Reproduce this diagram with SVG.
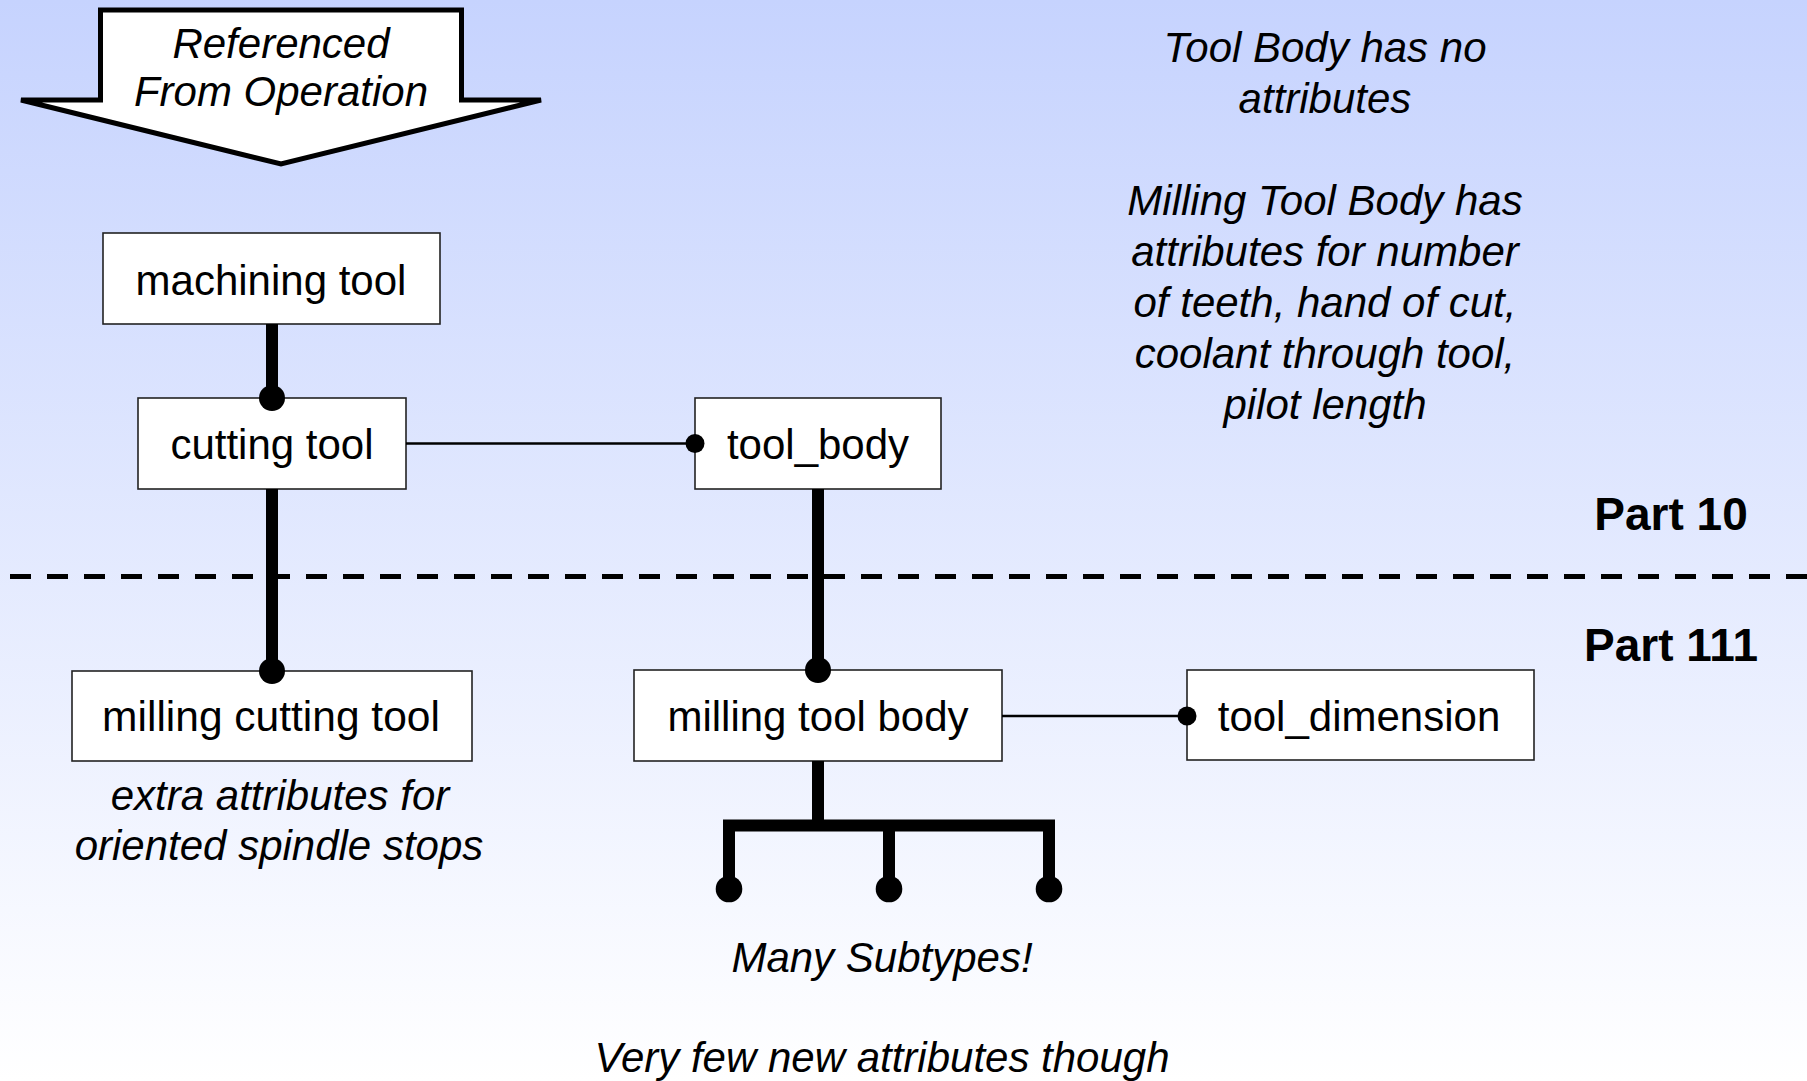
<svg xmlns="http://www.w3.org/2000/svg" width="1807" height="1081" viewBox="0 0 1807 1081">
<defs>
<linearGradient id="bg" x1="0" y1="0" x2="0" y2="1">
<stop offset="0" stop-color="#C6D3FE"/>
<stop offset="1" stop-color="#FFFFFF"/>
</linearGradient>
</defs>
<style>
.box{fill:#FFFFFF;stroke:#222222;stroke-width:1.6}
.lbl{font-family:"Liberation Sans",Arial,sans-serif;font-size:42px;fill:#000;text-anchor:middle}
.it{font-family:"Liberation Sans",Arial,sans-serif;font-size:42px;font-style:italic;fill:#000;text-anchor:middle}
.part{font-family:"Liberation Sans",Arial,sans-serif;font-size:46px;font-weight:bold;fill:#000;text-anchor:middle}
.thick{stroke:#000;stroke-width:12;fill:none}
.thin{stroke:#000;stroke-width:2.5;fill:none}
.dot{fill:#000}
</style>
<rect x="0" y="0" width="1807" height="1081" fill="url(#bg)"/>
<line x1="10" y1="576.5" x2="1807" y2="576.5" stroke="#000" stroke-width="5" stroke-dasharray="21 16"/>
<g id="referenced-arrow">
<polygon points="100.5,10 461.5,10 461.5,100 541,100 281,164 21,100 100.5,100" fill="#FFFFFF" stroke="#000" stroke-width="5"/>
<text class="it" x="281" y="58">Referenced</text>
<text class="it" x="281" y="106">From Operation</text>
</g>
<g id="machining-tool">
<rect class="box" x="103" y="233" width="337" height="91"/>
<text class="lbl" x="271" y="295">machining tool</text>
</g>
<g id="cutting-tool">
<rect class="box" x="138" y="398" width="268" height="91"/>
<text class="lbl" x="272" y="459">cutting tool</text>
</g>
<g id="tool-body">
<rect class="box" x="695" y="398" width="246" height="91"/>
<text class="lbl" x="818" y="459">tool_body</text>
</g>
<g id="milling-cutting-tool">
<rect class="box" x="72" y="671" width="400" height="90"/>
<text class="lbl" x="271" y="731" style="font-size:42.5px">milling cutting tool</text>
</g>
<g id="milling-tool-body">
<rect class="box" x="634" y="670" width="368" height="91"/>
<text class="lbl" x="818" y="731">milling tool body</text>
</g>
<g id="tool-dimension">
<rect class="box" x="1187" y="670" width="347" height="90"/>
<text class="lbl" x="1359" y="731">tool_dimension</text>
</g>
<g id="connectors">
<line class="thick" x1="272" y1="324" x2="272" y2="398"/>
<circle class="dot" cx="272" cy="398" r="13"/>
<line class="thick" x1="272" y1="489" x2="272" y2="671"/>
<circle class="dot" cx="272" cy="671" r="13"/>
<line class="thin" x1="406" y1="443.5" x2="695" y2="443.5"/>
<circle class="dot" cx="695" cy="443.5" r="9.5"/>
<line class="thick" x1="818" y1="489" x2="818" y2="670"/>
<circle class="dot" cx="818" cy="670" r="13"/>
<line class="thin" x1="1002" y1="716" x2="1187" y2="716"/>
<circle class="dot" cx="1187" cy="716" r="9.5"/>
<path class="thick" d="M818,761 V825.5"/>
<path class="thick" d="M729,889 V825.5 H1049 V889"/>
<line class="thick" x1="889" y1="825.5" x2="889" y2="889"/>
<circle class="dot" cx="729" cy="889" r="13.3"/>
<circle class="dot" cx="889" cy="889" r="13.3"/>
<circle class="dot" cx="1049" cy="889" r="13.3"/>
</g>
<g id="notes">
<text class="it" x="1325" y="62">Tool Body has no</text>
<text class="it" x="1325" y="113">attributes</text>
<text class="it" x="1325" y="215">Milling Tool Body has</text>
<text class="it" x="1325" y="266">attributes for number</text>
<text class="it" x="1325" y="317">of teeth, hand of cut,</text>
<text class="it" x="1325" y="368">coolant through tool,</text>
<text class="it" x="1325" y="419">pilot length</text>
<text class="part" x="1671" y="530">Part 10</text>
<text class="part" x="1671" y="661">Part 111</text>
<text class="it" x="280" y="810">extra attributes for</text>
<text class="it" x="279" y="860">oriented spindle stops</text>
<text class="it" x="882" y="972">Many Subtypes!</text>
<text class="it" x="882" y="1072">Very few new attributes though</text>
</g>
</svg>
